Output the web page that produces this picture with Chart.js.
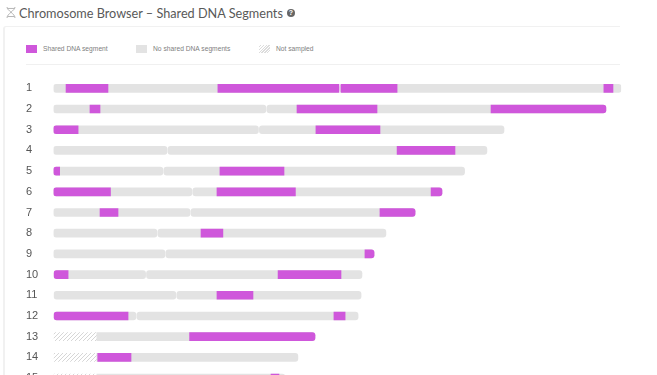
<!DOCTYPE html>
<html lang="en">
<head>
    <meta charset="UTF-8">
    <title>Chromosome Browser</title>
    <style>
        html, body { margin: 0; padding: 0; width: 657px; height: 375px; overflow: hidden; background: #fff; }
        body { position: relative; font-family: "Liberation Sans", sans-serif; }
        #dna { position: absolute; left: 6px; top: 7px; }
        #title { position: absolute; left: 19px; top: 3px; font-family: Lato, sans-serif; font-size: 14px; line-height: 20px; color: #595959; white-space: nowrap; transform: scaleX(0.905); transform-origin: left center; }
        #help { position: absolute; left: 287px; top: 9px; width: 8px; height: 8px; border-radius: 50%; background: #666; color: #fff; font: bold 7px/8px "Liberation Sans", sans-serif; text-align: center; }
        #card { position: absolute; left: 3px; top: 26px; width: 660px; height: 400px; border: 1px solid #f1f1f1; border-width: 1px 0 0 2px; border-top-left-radius: 3px; box-sizing: border-box; }
        #rule { position: absolute; left: 26px; top: 64px; width: 594px; height: 1px; background: #f0f0f0; }
        #cardTop { position: absolute; left: 620px; top: 25px; width: 37px; height: 3px; background: #fff; }
        .swatch { position: absolute; top: 45px; width: 11px; height: 8px; }
        .item { position: absolute; top: 43px; font-size: 6.7px; line-height: 12px; color: #808080; white-space: nowrap; }
        #lineChart { position: absolute; left: 0; top: 0; }
    </style>
</head>
<body>
    <svg id="dna" width="10" height="11" viewBox="0 0 10 15" preserveAspectRatio="none" fill="none" stroke="#aaa" stroke-width="1">
        <path d="M1 0 C1 5 9 9 9 15 M9 0 C9 5 1 9 1 15 M1.5 2 H8.5 M1.5 13 H8.5"/>
    </svg>
    <div id="title">Chromosome Browser – Shared DNA Segments</div>
    <div id="help">?</div>
    <div id="card"></div>
    <div id="cardTop"></div>
    <div id="rule"></div>

    <div class="swatch" style="left:26px;background:#cf57db"></div>
    <div class="item" style="left:43px">Shared DNA segment</div>
    <div class="swatch" style="left:136px;background:#e3e3e3"></div>
    <div class="item" style="left:153px">No shared DNA segments</div>
    <div class="swatch" style="left:259px;background:repeating-linear-gradient(135deg,#fff 0 1px,#dcdcdc 1px 2px)"></div>
    <div class="item" style="left:276px">Not sampled</div>

    <canvas id="lineChart" width="657" height="395"></canvas>

    <script src="https://cdn.jsdelivr.net/npm/chart.js"></script>

    <script>
        // values, in Mb
        const chromosomes = ['1', '2', '3', '4', '5', '6', '7', '8', '9', '10', '11', '12', '13', '14', '15'];
        const chromStart = [0, 0, 0, 0, 0, 0, 0, 0, 0, 0.2, 0.2, 0.2, 0.2, 0.2, 0.2];
        const chromEnd = [249, 242.3, 197.6, 190.1, 180.3, 170.4, 158.6, 145.8, 140.6, 135.3, 134.9, 133.6, 114.7, 107.2, 101.5];
        const centromere = [125.2, 93.2, 89.9, 49.8, 48, 60.7, 59.9, 45.4, 48.9, 40.4, 53.7, 36.2, null, null, null];
        const notSampledEnd = [null, null, null, null, null, null, null, null, null, null, null, null, 19, 19, 19];
        const sharedSegments = [
            [[5.5, 23.9], [72.1, 125.2], [126.1, 150.7], [241.4, 245.4]],
            [[16, 20.4], [106.8, 141.9], [191.9, 242.3]],
            [[0, 10.8], [115.1, 143.2]],
            [[150.7, 176.1]],
            [[0, 2.7], [73, 101.1]],
            [[0, 25], [71.7, 106.1], [165.6, 170.4]],
            [[20.4, 28.3], [143.2, 158.6]],
            [[64.7, 74.3]],
            [[136.6, 140.6]],
            [[0.2, 6.4], [98.5, 126.1]],
            [[71.7, 87.5]],
            [[0.2, 32.7], [123, 127.9]],
            [[59.7, 114.7]],
            [[19.4, 34]],
            [[95.4, 98.9]]
        ];

        const PINK = '#cf57db';
        const GREY = '#e3e3e3';
        const GAP = 0.4;

        function hatchPattern() {
            const c = document.createElement('canvas');
            c.width = 4;
            c.height = 4;
            const g = c.getContext('2d');
            g.strokeStyle = '#d6d6d6';
            g.lineWidth = 1;
            g.beginPath();
            g.moveTo(-1, 1); g.lineTo(1, -1);
            g.moveTo(0, 4); g.lineTo(4, 0);
            g.moveTo(3, 5); g.lineTo(5, 3);
            g.stroke();
            return g.createPattern(c, 'repeat');
        }

        const hatchData = [];
        const noSharedData = [];
        const sharedData = [];

        chromosomes.forEach(function (name, i) {
            const cen = centromere[i];
            const hatch = notSampledEnd[i];
            if (hatch !== null) {
                hatchData.push({ y: name, x: [chromStart[i], hatch], left: false, right: false });
                noSharedData.push({ y: name, x: [hatch, chromEnd[i]], left: false, right: true });
            } else {
                noSharedData.push({ y: name, x: [chromStart[i], cen], left: true, right: true });
                noSharedData.push({ y: name, x: [cen + GAP, chromEnd[i]], left: true, right: true });
            }
            sharedSegments[i].forEach(function (seg) {
                sharedData.push({
                    y: name,
                    x: seg,
                    left: seg[0] === chromStart[i],
                    right: seg[1] === chromEnd[i]
                });
            });
        });

        function cornerRadius(context) {
            const item = context.raw;
            const l = item && item.left ? 3 : 0;
            const r = item && item.right ? 3 : 0;
            return { topLeft: l, bottomLeft: l, topRight: r, bottomRight: r };
        }

        function barDataset(label, data, color) {
            return {
                label: label,
                data: data,
                backgroundColor: color,
                grouped: false,
                barThickness: 8,
                borderSkipped: false,
                borderRadius: cornerRadius
            };
        }

        var ctx = document.getElementById('lineChart').getContext('2d');

        var lineChart = new Chart(ctx, {
            type: 'bar',
            data: {
                labels: chromosomes,
                datasets: [
                    // first dataset is drawn on top
                    barDataset('Shared DNA segment', sharedData, PINK),
                    barDataset('No shared DNA segments', noSharedData, GREY),
                    barDataset('Not sampled', hatchData, hatchPattern())
                ]
            },
            options: {
                indexAxis: 'y',
                responsive: false,
                animation: false,
                layout: { padding: { left: 26, right: 35.8, top: 78, bottom: 0.5 } },
                plugins: { legend: { display: false }, tooltip: { enabled: false } },
                scales: {
                    x: { display: false, min: 0, max: 249 },
                    y: {
                        afterFit: function (scale) { scale.width = 27.5; },
                        border: { display: false },
                        grid: { display: false, drawTicks: false },
                        ticks: {
                            crossAlign: 'far',
                            padding: 0,
                            autoSkip: false,
                            color: '#555',
                            font: { family: 'Liberation Sans', size: 11 }
                        }
                    }
                }
            }
        });
    </script>
</body>
</html>
